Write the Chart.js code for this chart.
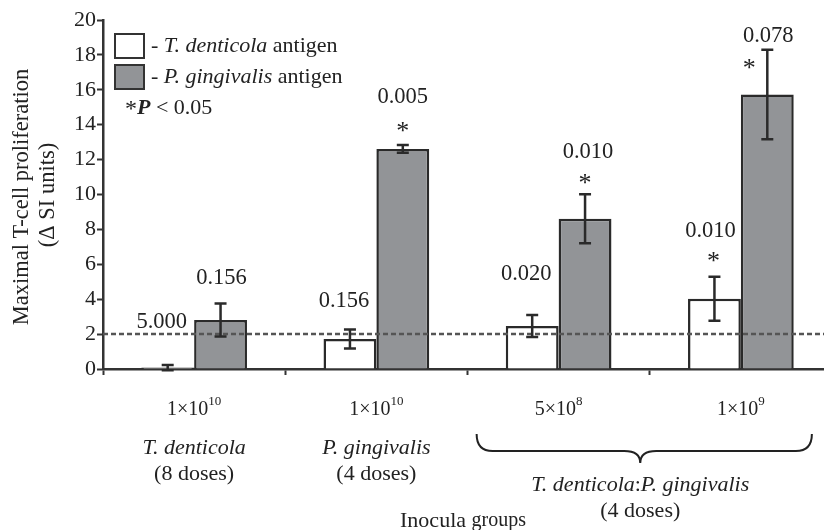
<!DOCTYPE html>
<html>
<head>
<meta charset="utf-8">
<script src="https://cdn.jsdelivr.net/npm/chart.js@4.4.1/dist/chart.umd.min.js"></script>
<style>
  html, body { margin: 0; padding: 0; background: #fff; overflow: hidden; }
  #wrap { width: 824px; height: 530px; overflow: hidden; }
</style>
</head>
<body>
<div id="wrap"><canvas id="chart" width="832" height="530"></canvas></div>
<script>
// Chart values
const doseBase = ['1×10', '1×10', '5×10', '1×10'];
const doseExp = ['10', '10', '8', '9'];
const tdMeans = [0.08, 1.72, 2.47, 4.02];
const tdErr = [0.15, 0.55, 0.63, 1.26];
const pgMeans = [2.81, 12.61, 8.61, 15.73];
const pgErr = [0.95, 0.22, 1.40, 2.56];
const tdP = ['5.000', '0.156', '0.020', '0.010'];
const pgP = ['0.156', '0.005', '0.010', '0.078'];
const tdStar = [false, false, false, true];
const pgStar = [false, true, true, true];
const baseline = 2;
const yTicks = [0, 2, 4, 6, 8, 10, 12, 14, 16, 18, 20];

// label placement (px, relative to top of error bar)
const tdLabelOff = [[-6, -43], [-6, -28], [-6, -41], [-4, -46]];
const tdStarOff = [null, null, null, [-1, -20]];
const pgLabelOff = [[1, -25], [0, -48], [3, -42], [1, -14]];
const pgStarOff = [null, [0, -18], [0, -15], [-18, 14]];

const INK = '#222';
const SERIF = "'Liberation Serif', 'DejaVu Serif', serif";

function drawRuns(ctx, runs, x, y, align) {
    let total = 0;
    runs.forEach(r => { ctx.font = r.f; total += ctx.measureText(r.t).width; });
    let cx = align === 'center' ? x - total / 2 : x;
    ctx.textAlign = 'left';
    runs.forEach(r => {
        ctx.font = r.f;
        ctx.fillText(r.t, cx + (r.dx || 0), y + (r.dy || 0));
        cx += ctx.measureText(r.t).width;
    });
}

const overlay = {
    id: 'overlay',
    afterDatasetsDraw(chart) {
        const ctx = chart.ctx;
        const x = chart.scales.x, y = chart.scales.y;
        const area = chart.chartArea;
        ctx.save();

        // dashed baseline
        ctx.strokeStyle = '#555';
        ctx.lineWidth = 2.5;
        ctx.setLineDash([5, 3]);
        ctx.beginPath();
        ctx.moveTo(area.left, y.getPixelForValue(baseline));
        ctx.lineTo(area.right, y.getPixelForValue(baseline));
        ctx.stroke();
        ctx.setLineDash([]);

        // error bars + p values
        ctx.fillStyle = INK;
        ctx.textBaseline = 'middle';
        [[0, tdMeans, tdErr, tdP, tdStar, tdLabelOff, tdStarOff],
         [1, pgMeans, pgErr, pgP, pgStar, pgLabelOff, pgStarOff]].forEach(s => {
            const meta = chart.getDatasetMeta(s[0]);
            meta.data.forEach((bar, i) => {
                const bx = bar.x;
                const top = y.getPixelForValue(s[1][i] + s[2][i]);
                const bot = y.getPixelForValue(Math.max(s[1][i] - s[2][i], -0.1));
                ctx.strokeStyle = '#2a2a2a';
                ctx.lineWidth = 2.5;
                ctx.beginPath();
                ctx.moveTo(bx, top); ctx.lineTo(bx, bot);
                ctx.moveTo(bx - 6, top); ctx.lineTo(bx + 6, top);
                ctx.moveTo(bx - 6, bot); ctx.lineTo(bx + 6, bot);
                ctx.stroke();

                ctx.font = '22.5px ' + SERIF;
                ctx.textAlign = 'center';
                const lo = s[5][i];
                ctx.fillText(s[3][i], bx + lo[0], top + lo[1]);
                if (s[4][i]) {
                    const so = s[6][i];
                    ctx.font = '26px ' + SERIF;
                    ctx.fillText('*', bx + so[0], top + so[1] + 5);
                }
            });
        });

        // legend
        ctx.lineWidth = 2;
        ctx.strokeStyle = '#333';
        ctx.fillStyle = '#fff';
        ctx.fillRect(115, 34, 29, 24);
        ctx.strokeRect(115, 34, 29, 24);
        ctx.fillStyle = '#929497';
        ctx.fillRect(115, 65, 29, 24);
        ctx.strokeRect(115, 65, 29, 24);
        ctx.fillStyle = INK;
        const nf = '22px ' + SERIF, itf = 'italic 22px ' + SERIF;
        drawRuns(ctx, [{t: '- ', f: nf}, {t: 'T. denticola', f: itf}, {t: ' antigen', f: nf}], 151, 46, 'left');
        drawRuns(ctx, [{t: '- ', f: nf}, {t: 'P. gingivalis', f: itf}, {t: ' antigen', f: nf}], 151, 77, 'left');
        drawRuns(ctx, [{t: '*', f: '24px ' + SERIF, dy: 2}, {t: 'P', f: 'italic bold 22px ' + SERIF}, {t: ' < 0.05', f: nf}], 125, 108, 'left');

        // dose labels under each category
        doseBase.forEach((b, i) => {
            const cx = x.getPixelForValue(i);
            drawRuns(ctx, [{t: b, f: '20px ' + SERIF}, {t: doseExp[i], f: '13px ' + SERIF, dy: -8}], cx, 410, 'center');
        });

        // group names
        const c0 = x.getPixelForValue(0), c1 = x.getPixelForValue(1);
        const c2 = x.getPixelForValue(2), c3 = x.getPixelForValue(3);
        ctx.textAlign = 'center';
        ctx.font = 'italic 22px ' + SERIF;
        ctx.fillText('T. denticola', c0, 448);
        ctx.fillText('P. gingivalis', c1, 448);
        ctx.font = '22px ' + SERIF;
        ctx.fillText('(8 doses)', c0, 474);
        ctx.fillText('(4 doses)', c1, 474);

        // brace over combined groups
        const L = c2 - 82, R = c3 + 71, M = (L + R) / 2 - 4;
        const t0 = 434, mid = 451, tip = 463, r = 16;
        ctx.strokeStyle = INK;
        ctx.lineWidth = 2;
        ctx.beginPath();
        ctx.moveTo(L, t0);
        ctx.quadraticCurveTo(L, mid, L + r, mid);
        ctx.lineTo(M - r, mid);
        ctx.quadraticCurveTo(M, mid, M, tip);
        ctx.quadraticCurveTo(M, mid, M + r, mid);
        ctx.lineTo(R - r, mid);
        ctx.quadraticCurveTo(R, mid, R, t0);
        ctx.stroke();

        drawRuns(ctx, [{t: 'T. denticola', f: 'italic 22px ' + SERIF}, {t: ':', f: '22px ' + SERIF}, {t: 'P. gingivalis', f: 'italic 22px ' + SERIF}], M, 485, 'center');
        ctx.textAlign = 'center';
        ctx.font = '22px ' + SERIF;
        ctx.fillText('(4 doses)', M, 511);

        // x axis title
        drawRuns(ctx, [{t: 'Inocula ', f: '22px ' + SERIF}, {t: 'groups', f: '20px ' + SERIF}], 463, 521, 'center');

        // y axis title
        ctx.save();
        ctx.translate(22, 197);
        ctx.rotate(-Math.PI / 2);
        ctx.textAlign = 'center';
        ctx.font = '22.5px ' + SERIF;
        ctx.fillText('Maximal T-cell proliferation', 0, 0);
        ctx.restore();
        ctx.save();
        ctx.translate(48, 195);
        ctx.rotate(-Math.PI / 2);
        ctx.textAlign = 'center';
        ctx.font = '22.5px ' + SERIF;
        ctx.fillText('(Δ SI units)', 0, 0);
        ctx.restore();

        ctx.restore();
    }
};

new Chart(document.getElementById('chart'), {
    type: 'bar',
    data: {
        labels: doseBase.map((b, i) => b + doseExp[i]),
        datasets: [{
            label: 'T. denticola antigen',
            data: tdMeans,
            backgroundColor: '#ffffff',
            borderColor: '#2a2a2a',
            borderWidth: 2.5
        }, {
            label: 'P. gingivalis antigen',
            data: pgMeans,
            backgroundColor: '#929497',
            borderColor: '#2a2a2a',
            borderWidth: 2.5
        }]
    },
    options: {
        responsive: false,
        animation: false,
        devicePixelRatio: 1,
        layout: { padding: { top: 20, right: 0, bottom: 0, left: 0 } },
        categoryPercentage: 0.58,
        barPercentage: 1.0,
        plugins: { legend: { display: false }, tooltip: { enabled: false } },
        scales: {
            x: {
                grid: { display: true, offset: true, drawOnChartArea: false, drawTicks: true, tickLength: 6, tickColor: '#333', tickWidth: 2 },
                border: { display: true, color: '#333', width: 2.5 },
                ticks: { display: false },
                afterFit: s => { s.height = 161; }
            },
            y: {
                min: 0,
                max: 20,
                afterBuildTicks: s => { s.ticks = yTicks.map(v => ({ value: v })); },
                grid: { drawOnChartArea: false, drawTicks: true, tickLength: 6, tickColor: '#333', tickWidth: 2 },
                border: { display: true, color: '#333', width: 2.5 },
                ticks: { color: INK, padding: 1, font: { family: SERIF, size: 22 } },
                afterFit: s => { s.width = 103; }
            }
        }
    },
    plugins: [overlay]
});
</script>
</body>
</html>
